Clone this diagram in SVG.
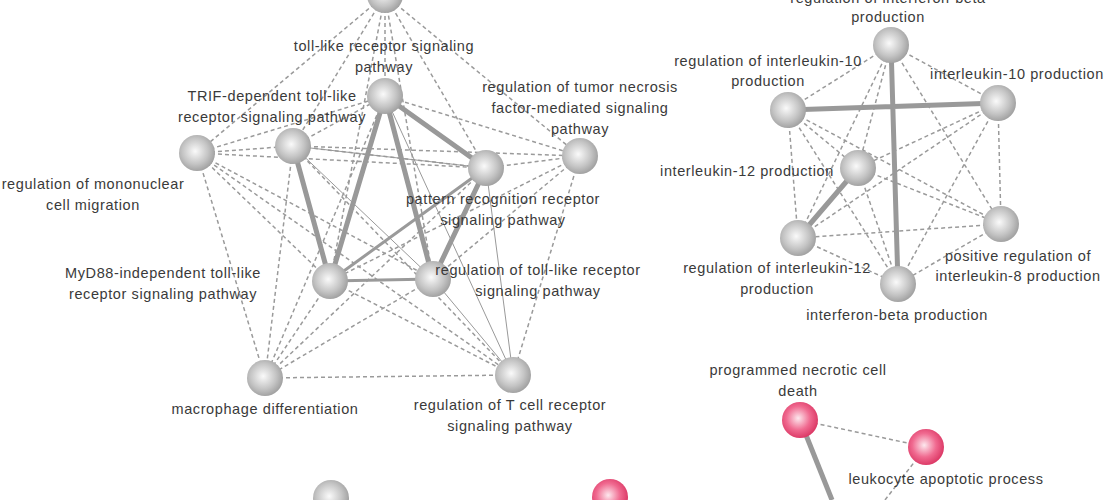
<svg xmlns="http://www.w3.org/2000/svg" width="1110" height="500" viewBox="0 0 1110 500">
<defs>
<radialGradient id="g" cx="0.45" cy="0.45" r="0.6"><stop offset="0" stop-color="#fafafa"/><stop offset="0.6" stop-color="#c4c4c4"/><stop offset="1" stop-color="#9a9a9a"/></radialGradient>
<radialGradient id="p" cx="0.45" cy="0.45" r="0.6"><stop offset="0" stop-color="#fde8ee"/><stop offset="0.55" stop-color="#f06a90"/><stop offset="1" stop-color="#d8305e"/></radialGradient>
<style>
text{font-family:"Liberation Sans",Arial,sans-serif;font-size:14.5px;letter-spacing:0.6px;fill:#3a3a3a;text-anchor:middle}
.d{stroke:#9a9a9a;stroke-width:1.5;stroke-dasharray:4 3;fill:none}
.t{stroke:#999;stroke-width:1;fill:none}
.m{stroke:#9a9a9a;stroke-width:3;fill:none}
.k{stroke:#999;stroke-width:5;fill:none}
.n{fill:url(#g)}
.q{fill:url(#p)}
</style>
</defs>
<rect width="1110" height="500" fill="#fff"/>
<g id="connectors">
<path class="d" d="M385 -5L385 96M385 -5L293 146M385 -5L197 153M385 -5L486 168M385 -5L580 156M385 -5L330 281M385 -5L433 279"/>
<path class="d" d="M197 153L293 146M197 153L385 96M197 153L486 168M197 153L330 281M197 153L433 279M197 153L265 378M197 153L513 375M293 146L385 96M293 146L580 156M293 146L265 378M293 146L513 375M385 96L580 156M385 96L265 378M486 168L580 156M486 168L265 378M580 156L330 281M580 156L433 279M580 156L513 375M330 281L265 378M330 281L513 375M433 279L265 378M265 378L513 375M293 146L486 168"/>
<path class="t" d="M293 146L486 168M293 146L433 279M385 96L513 375M486 168L513 375M433 279L513 375"/>
<path class="m" d="M486 168L330 281M330 281L433 279"/>
<path class="k" d="M385 96L330 281M385 96L433 279M385 96L486 168M293 146L330 281M486 168L433 279"/>
<path class="d" d="M891 45L788 110M891 45L998 103M891 45L858 168M891 45L1001 224M891 45L798 238M788 110L858 168M788 110L1001 224M788 110L798 238M788 110L898 284M998 103L858 168M998 103L1001 224M998 103L798 238M998 103L898 284M858 168L1001 224M858 168L898 284M1001 224L798 238M1001 224L898 284M798 238L898 284"/>
<path class="k" d="M891 45L898 284M788 110L998 103M858 168L798 238"/>
<path class="d" d="M800 420L926 447M926 447L885 500"/>
<path class="k" d="M800 420L832 500"/>
</g>
<g id="n-top"><circle class="n" cx="385" cy="-5" r="18"/></g>
<g id="n-tlr"><circle class="n" cx="385" cy="96" r="18"/><text x="384" y="51">toll-like receptor signaling</text><text x="384" y="72">pathway</text></g>
<g id="n-trif"><circle class="n" cx="293" cy="146" r="18"/><text x="272" y="101">TRIF-dependent toll-like</text><text x="272" y="122">receptor signaling pathway</text></g>
<g id="n-mono"><circle class="n" cx="197" cy="153" r="18"/><text x="93" y="189">regulation of mononuclear</text><text x="93" y="210">cell migration</text></g>
<g id="n-tnf"><circle class="n" cx="580" cy="156" r="18"/><text x="580" y="92">regulation of tumor necrosis</text><text x="580" y="113">factor-mediated signaling</text><text x="580" y="134">pathway</text></g>
<g id="n-prr"><circle class="n" cx="486" cy="168" r="18"/><text x="503" y="204">pattern recognition receptor</text><text x="503" y="225">signaling pathway</text></g>
<g id="n-myd"><circle class="n" cx="330" cy="281" r="18"/><text x="163" y="278">MyD88-independent toll-like</text><text x="163" y="299">receptor signaling pathway</text></g>
<g id="n-rtlr"><circle class="n" cx="433" cy="279" r="18"/><text x="538" y="275">regulation of toll-like receptor</text><text x="538" y="296">signaling pathway</text></g>
<g id="n-mac"><circle class="n" cx="265" cy="378" r="18"/><text x="265" y="414">macrophage differentiation</text></g>
<g id="n-tcr"><circle class="n" cx="513" cy="375" r="18"/><text x="510" y="410">regulation of T cell receptor</text><text x="510" y="431">signaling pathway</text></g>
<g id="n-b1"><circle class="n" cx="331" cy="498" r="18"/></g>
<g id="n-b2"><circle class="q" cx="610" cy="497" r="18"/></g>
<g id="n-rifn"><circle class="n" cx="891" cy="45" r="18"/><text x="888" y="3">regulation of interferon-beta</text><text x="888" y="22">production</text></g>
<g id="n-ril10"><circle class="n" cx="788" cy="110" r="18"/><text x="768" y="66">regulation of interleukin-10</text><text x="768" y="86">production</text></g>
<g id="n-il10"><circle class="n" cx="998" cy="103" r="18"/><text x="1017" y="79">interleukin-10 production</text></g>
<g id="n-il12"><circle class="n" cx="858" cy="168" r="18"/><text x="747" y="176">interleukin-12 production</text></g>
<g id="n-il8"><circle class="n" cx="1001" cy="224" r="18"/><text x="1018" y="261">positive regulation of</text><text x="1018" y="281">interleukin-8 production</text></g>
<g id="n-ril12"><circle class="n" cx="798" cy="238" r="18"/><text x="777" y="273">regulation of interleukin-12</text><text x="777" y="294">production</text></g>
<g id="n-ifnb"><circle class="n" cx="898" cy="284" r="18"/><text x="897" y="320">interferon-beta production</text></g>
<g id="n-pncd"><circle class="q" cx="800" cy="420" r="18"/><text x="798" y="375">programmed necrotic cell</text><text x="798" y="396">death</text></g>
<g id="n-lap"><circle class="q" cx="926" cy="447" r="18"/><text x="946" y="484">leukocyte apoptotic process</text></g>
</svg>
